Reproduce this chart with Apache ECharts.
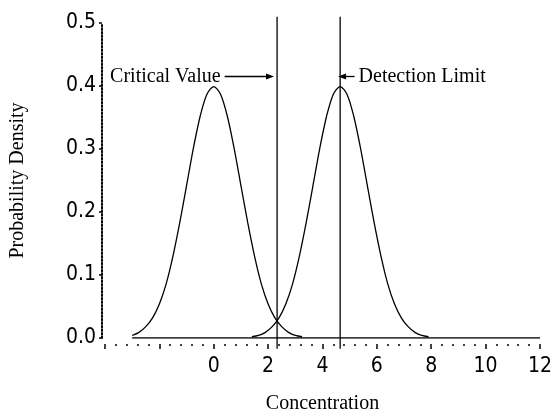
<!DOCTYPE html>
<html>
<head>
<meta charset="utf-8">
<script src="https://cdn.jsdelivr.net/npm/echarts@6/dist/echarts.min.js"></script>
<style>
  html, body { margin: 0; padding: 0; background: #fff; }
  #chart { width: 555px; height: 419px; }
</style>
</head>
<body>
<div id="chart"></div>
<script>
// density values, one per x point (step 0.25)
const blankX = [-3, -2.75, -2.5, -2.25, -2, -1.75, -1.5, -1.25, -1, -0.75, -0.5, -0.25, 0,
  0.25, 0.5, 0.75, 1, 1.25, 1.5, 1.75, 2, 2.25, 2.5, 2.75, 3, 3.25];
const blankY = [0.004, 0.009, 0.018, 0.032, 0.054, 0.086, 0.130, 0.183, 0.242, 0.301, 0.352, 0.387, 0.399,
  0.387, 0.352, 0.301, 0.242, 0.183, 0.130, 0.086, 0.054, 0.032, 0.018, 0.009, 0.004, 0.002];

const detectX = [1.4, 1.65, 1.9, 2.15, 2.4, 2.65, 2.9, 3.15, 3.4, 3.65, 3.9, 4.15, 4.4, 4.65,
  4.9, 5.15, 5.4, 5.65, 5.9, 6.15, 6.4, 6.65, 6.9, 7.15, 7.4, 7.65, 7.9];
const detectY = [0.002, 0.004, 0.009, 0.018, 0.032, 0.054, 0.086, 0.130, 0.183, 0.242, 0.301, 0.352, 0.387, 0.399,
  0.387, 0.352, 0.301, 0.242, 0.183, 0.130, 0.086, 0.054, 0.032, 0.018, 0.009, 0.004, 0.002];

const baselineX = [-3, 12];
const criticalValue = 2.33;
const detectionLimit = 4.65;
const vlineY = [-0.017, 0.51];

const xTicks = [0, 2, 4, 6, 8, 10, 12];

const ink = '#000';
const serif = '"Liberation Serif", "DejaVu Serif", serif';
const tickFont = '"Liberation Sans Narrow", "DejaVu Sans Condensed", sans-serif';

const zip = (xs, ys) => xs.map((x, i) => [x, ys[i]]);

const chart = echarts.init(document.getElementById('chart'));

const options = {
  animation: false,
  grid: { left: 100, right: 7, top: 23, bottom: 73 },
  xAxis: {
    type: 'value',
    min: -4,
    max: 12,
    interval: 2,
    offset: 6,
    name: 'Concentration',
    nameLocation: 'middle',
    nameGap: 50,
    nameTextStyle: { fontFamily: serif, fontSize: 20, color: ink },
    splitLine: { show: false },
    axisLine: { show: false, onZero: false },
    axisTick: { show: true, length: 5, lineStyle: { color: ink, width: 1.5 } },
    minorTick: { show: true, splitNumber: 5, length: 2, lineStyle: { color: ink, width: 1.5 } },
    axisLabel: {
      margin: 12,
      fontFamily: tickFont,
      fontSize: 21,
      color: ink,
      formatter: v => (xTicks.includes(v) ? String(v) : '')
    }
  },
  yAxis: {
    type: 'value',
    min: 0,
    max: 0.5,
    interval: 0.1,
    offset: 3,
    name: 'Probability Density',
    nameLocation: 'middle',
    nameGap: 74,
    nameRotate: 90,
    nameTextStyle: { fontFamily: serif, fontSize: 20, color: ink },
    splitLine: { show: false },
    axisLine: { show: true, onZero: false, lineStyle: { color: ink, width: 2, type: [1.5, 2] } },
    axisTick: { show: true, length: 3, lineStyle: { color: ink, width: 1.5 } },
    axisLabel: {
      margin: 6,
      padding: [10, 0, 0, 0],
      fontFamily: tickFont,
      fontSize: 21,
      color: ink,
      formatter: v => v.toFixed(1)
    }
  },
  series: [
    {
      name: 'blank',
      type: 'line',
      data: zip(blankX, blankY),
      smooth: 0.3,
      symbol: 'none',
      lineStyle: { color: ink, width: 1.3 }
    },
    {
      name: 'detect',
      type: 'line',
      data: zip(detectX, detectY),
      smooth: 0.3,
      symbol: 'none',
      lineStyle: { color: ink, width: 1.3 }
    },
    {
      name: 'baseline',
      type: 'line',
      data: baselineX.map(x => [x, 0]),
      symbol: 'none',
      lineStyle: { color: ink, width: 1.3 },
      markLine: {
        silent: true,
        symbol: ['none', 'triangle'],
        symbolSize: [6, 8],
        lineStyle: { color: ink, width: 1.3, type: 'solid' },
        label: {
          show: true,
          position: 'start',
          distance: 4,
          fontFamily: serif,
          fontSize: 20,
          color: ink
        },
        data: [
          [
            { coord: [0.4, 0.415], label: { formatter: 'Critical Value' } },
            { coord: [2.07, 0.415] }
          ],
          [
            { coord: [5.18, 0.415], label: { formatter: 'Detection Limit' } },
            { coord: [4.72, 0.415] }
          ]
        ]
      }
    },
    {
      name: 'critical',
      type: 'line',
      clip: false,
      data: vlineY.map(y => [criticalValue, y]),
      symbol: 'none',
      lineStyle: { color: ink, width: 1.3 }
    },
    {
      name: 'limit',
      type: 'line',
      clip: false,
      data: vlineY.map(y => [detectionLimit, y]),
      symbol: 'none',
      lineStyle: { color: ink, width: 1.3 }
    }
  ]
};

chart.setOption(options);
</script>
</body>
</html>
